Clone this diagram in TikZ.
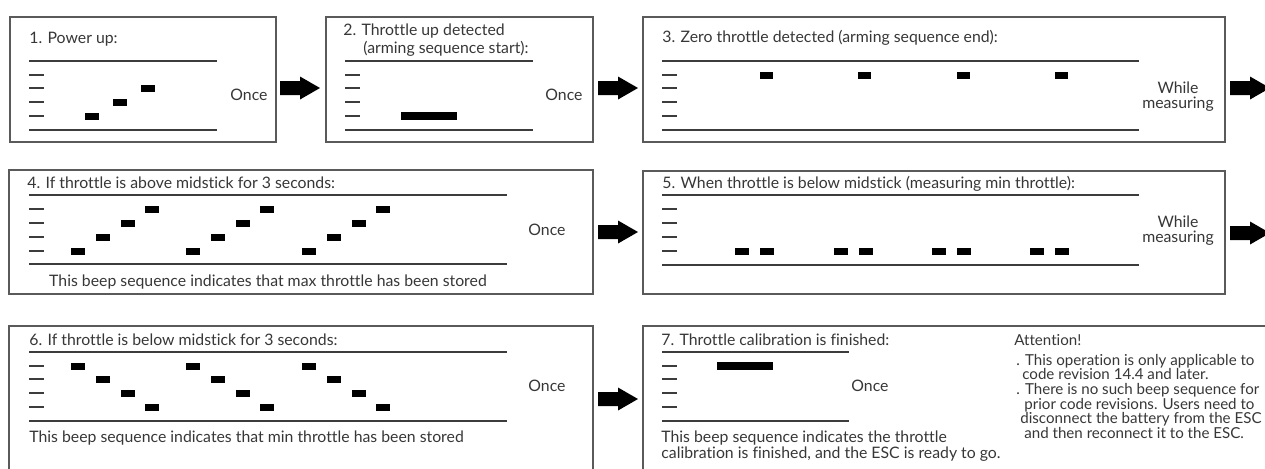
\documentclass[tikz,border=0pt]{standalone}
\usepackage{fontspec}
\setmainfont{Lato}[Ligatures=NoCommon]

\definecolor{txtgray}{RGB}{55,55,55}
\definecolor{rulegray}{RGB}{60,60,60}
\definecolor{boxgray}{RGB}{90,90,90}

\begin{document}
\begin{tikzpicture}[x=0.02cm,y=-0.02cm,
  every node/.style={font=\fontsize{9}{10.5}\selectfont,text=txtgray,inner sep=0pt},
  title/.style={anchor=base west},
  note/.style={anchor=base},
  attline/.style={anchor=base west,font=\fontsize{8.6}{10}\selectfont},
  panel/.style={draw=boxgray,line width=.6pt},
  rule/.style={draw=rulegray,line width=.8pt},
  tickmark/.style={draw=rulegray,line width=.6pt},
  beep/.style={fill=black},
  bigarrow/.style={fill=black}]
\useasboundingbox (0,0) rectangle (1265,468);
\clip (0,0) rectangle (1265,468);
\fill[white] (0,0) rectangle (1265,468);

\draw[panel] (10,17) rectangle (276,142);
\draw[panel] (326,17) rectangle (593,142);
\draw[panel] (643,17) rectangle (1225,142);
\draw[panel] (9,170) rectangle (593,294);
\draw[panel] (643,171) rectangle (1225,294);
\draw[panel] (9,480) -- (9,326) -- (593,326) -- (593,480);
\draw[panel] (643,480) -- (643,326) -- (1280,326);

\draw[rule] (29,61) -- (217,61);\draw[rule] (29,130) -- (217,130);
\draw[rule] (345,61) -- (533,61);\draw[rule] (345,130) -- (533,130);
\draw[rule] (662,61) -- (1139,61);\draw[rule] (662,130) -- (1139,130);
\draw[rule] (29,195) -- (507,195);\draw[rule] (29,264) -- (507,264);
\draw[rule] (662,195) -- (1139,195);\draw[rule] (662,265) -- (1139,265);
\draw[rule] (29,352) -- (507,352);\draw[rule] (29,421) -- (507,421);
\draw[rule] (662,352) -- (849,352);\draw[rule] (662,421) -- (849,421);

\foreach \x in {29,345,662}
  \foreach \y in {75,88,102,116} \draw[tickmark] (\x,\y) -- ++(15,0);
\foreach \x in {29,662}
  \foreach \y in {209,223,237,251,366,379,393,407} \draw[tickmark] (\x,\y) -- ++(15,0);

\fill[beep] (85,112.5) rectangle ++(14,7);
\fill[beep] (113,98.5) rectangle ++(14,7);
\fill[beep] (141,84.5) rectangle ++(14,7);
\fill[beep] (401,112) rectangle ++(56,8);
\foreach \x in {760,858,957,1055} \fill[beep] (\x,71.5) rectangle ++(13,7);
\foreach \g in {0,115,231}
  \foreach \i/\y in {0/251,25/237,50/223,74/209} \fill[beep] (71+\g+\i,\y-3.5) rectangle ++(14,7);
\foreach \x in {735,834,932,1030} {
  \fill[beep] (\x,247.5) rectangle ++(14,7);
  \fill[beep] (\x+25,247.5) rectangle ++(14,7);}
\foreach \g in {0,115,231}
  \foreach \i/\y in {0/366,25/379,50/393,74/407} \fill[beep] (71+\g+\i,\y-3.5) rectangle ++(14,7);
\fill[beep] (717,362) rectangle ++(56,7.5);

\foreach \x/\y in {280/88,598/88,1230/88,598/232,1230/233,598/399}
  \fill[bigarrow] (\x,\y-7) -- ++(20,0) -- ++(0,-4.5) -- ++(20,11.5) -- ++(-20,11.5) -- ++(0,-4.5) -- ++(-20,0) -- cycle;

\node[title] (t1) at (29,43) {1. Power up:};
\node[note] (o1) at (249,100.5) {Once};
\node[title] (t2a) at (343,35) {2. Throttle up detected};
\node[title] (t2b) at (363,53) {(arming sequence start):};
\node[note] (o2) at (564,100.5) {Once};
\node[title] (t3) at (662,42) {3. Zero throttle detected (arming sequence end):};
\node[note] (w3a) at (1178,93) {While};
\node[note] (w3b) at (1178,108) {measuring};

\node[title] (t4) at (27,188) {4. If throttle is above midstick for 3 seconds:};
\node[note] (c4) at (268,286) {This beep sequence indicates that max throttle has been stored};
\node[note] (o4) at (547,235) {Once};
\node[title] (t5) at (662,188) {5. When throttle is below midstick (measuring min throttle):};
\node[note] (w5a) at (1178,227) {While};
\node[note] (w5b) at (1178,242) {measuring};

\node[title] (t6) at (29,345) {6. If throttle is below midstick for 3 seconds:};
\node[title] (c6) at (29,442) {This beep sequence indicates that min throttle has been stored};
\node[note] (o6) at (547,391) {Once};
\node[title] (t7) at (661,345) {7. Throttle calibration is finished:};
\node[note] (o7) at (870,391) {Once};
\node[title] (c7a) at (661,442) {This beep sequence indicates the throttle};
\node[title] (c7b) at (661,458) {calibration is finished, and the ESC is ready to go.};

\node[attline] (att) at (1014,345) {Attention!};
\node[attline] (n1) at (1016,365) {. This operation is only applicable to};
\node[attline] (n2) at (1022,379) {code revision 14.4 and later.};
\node[attline] (n3) at (1016,394) {. There is no such beep sequence for};
\node[attline] (n4) at (1024,409) {prior code revisions. Users need to};
\node[attline] (n5) at (1020,423) {disconnect the battery from the ESC};
\node[attline] (n6) at (1024,438) {and then reconnect it to the ESC.};
\end{tikzpicture}
\end{document}
